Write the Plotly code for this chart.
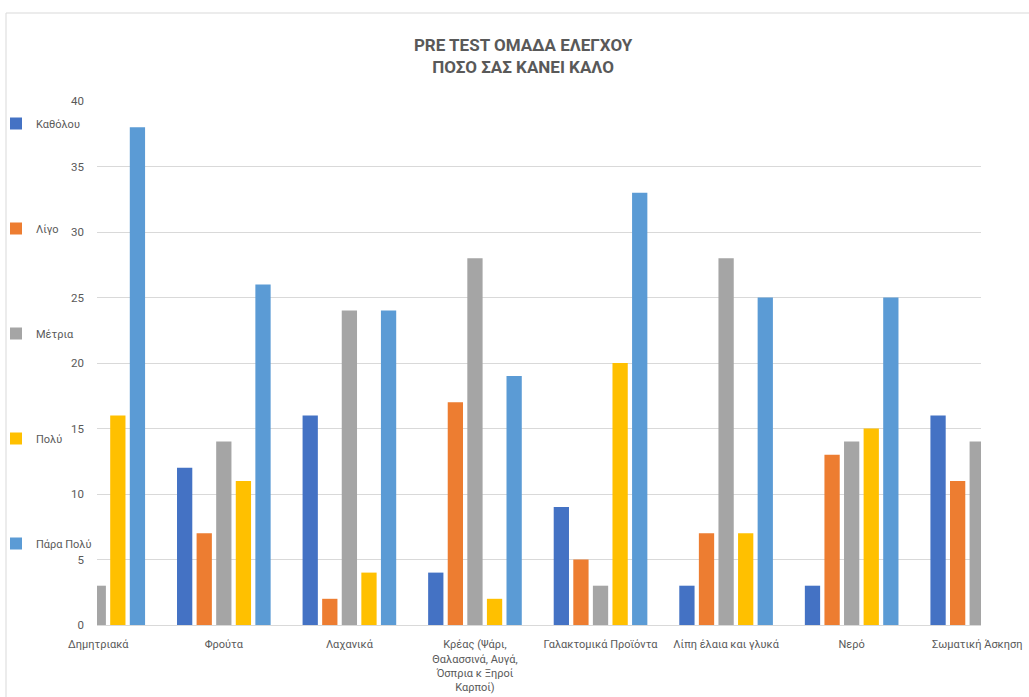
import plotly.graph_objects as go

# Food categories (x axis) and their tick labels
categories = ["Δημητριακά", "Φρούτα", "Λαχανικά", "Κρέας", "Γαλακτομικά Προϊόντα",
              "Λίπη έλαια και γλυκά", "Νερό", "Σωματική Άσκηση"]
tick_labels = ["Δημητριακά", "Φρούτα", "Λαχανικά",
               "Κρέας (Ψάρι,<br>Θαλασσινά, Αυγά,<br>Όσπρια κ Ξηροί<br>Καρποί)",
               "Γαλακτομικά Προϊόντα", "Λίπη έλαια και γλυκά", "Νερό", "Σωματική Άσκηση"]

# Answer counts per response level
katholou = [None, 12, 16, 4, 9, 3, 3, 16]
ligo = [None, 7, 2, 17, 5, 7, 13, 11]
metria = [3, 14, 24, 28, 3, 28, 14, 14]
poly = [16, 11, 4, 2, 20, 7, 15, None]
para_poly = [38, 26, 24, 19, 33, 25, 25, None]

y_ticks = [0, 5, 10, 15, 20, 25, 30, 35, 40]

series = [
    ("Καθόλου", katholou, "#4472C4"),
    ("Λίγο", ligo, "#ED7D31"),
    ("Μέτρια", metria, "#A5A5A5"),
    ("Πολύ", poly, "#FFC000"),
    ("Πάρα Πολύ", para_poly, "#5B9BD5"),
]

FONT = "Roboto, Liberation Sans, sans-serif"
GREY = "#595959"

fig = go.Figure()
for i, (name, vals, color) in enumerate(series):
    fig.add_trace(go.Bar(
        x=categories, y=vals, name=name, legendgroup=f"g{i}",
        marker=dict(color=color, line=dict(width=0)),
    ))

L, R, T, B = 97, 48, 101, 72
W, H = 1029, 697
pw, ph = W - L - R, H - T - B

fig.update_layout(
    width=W, height=H,
    margin=dict(l=L, r=R, t=T, b=B, autoexpand=False),
    paper_bgcolor="white", plot_bgcolor="white",
    barmode="group", bargap=0.22, bargroupgap=0.22,
    font=dict(family=FONT, size=11, color=GREY),
    title=dict(
        text="<b>PRE TEST ΟΜΑΔΑ ΕΛΕΓΧΟΥ<br>ΠΟΣΟ ΣΑΣ ΚΑΝΕΙ ΚΑΛΟ</b>",
        x=0.482, xanchor="center", xref="paper",
        y=1 - 51 / H, yanchor="middle", yref="container",
        font=dict(family=FONT, size=17, color=GREY),
    ),
    legend=dict(
        x=(-4 - L) / pw, xanchor="left", y=1 + (T - 109) / ph, yanchor="top",
        tracegroupgap=86, font=dict(family=FONT, size=11, color=GREY),
        bgcolor="rgba(0,0,0,0)", itemwidth=30,
    ),
    showlegend=True,
    xaxis=dict(
        range=[-0.01, 7.03], automargin=False,
        tickmode="array", tickvals=categories, ticktext=tick_labels,
        showgrid=False, showline=True, linecolor="#D9D9D9", linewidth=1,
        ticks="", tickfont=dict(family=FONT, size=11, color=GREY),
        tickangle=0, ticklabelstandoff=9,
    ),
    yaxis=dict(
        range=[0, 40], tickvals=y_ticks, automargin=False,
        showgrid=True, gridcolor="#D9D9D9", gridwidth=1,
        zeroline=False, showline=False, ticks="",
        tickfont=dict(family=FONT, size=11.5, color=GREY),
        ticklabelstandoff=12,
    ),
    shapes=[dict(
        type="rect", xref="paper", yref="paper",
        x0=(6 - L) / pw, x1=1.2, y0=-0.3, y1=1 + (T - 13) / ph,
        line=dict(color="#D9D9D9", width=1), fillcolor="rgba(0,0,0,0)",
        layer="below",
    )],
)

fig.write_html("out.html")
